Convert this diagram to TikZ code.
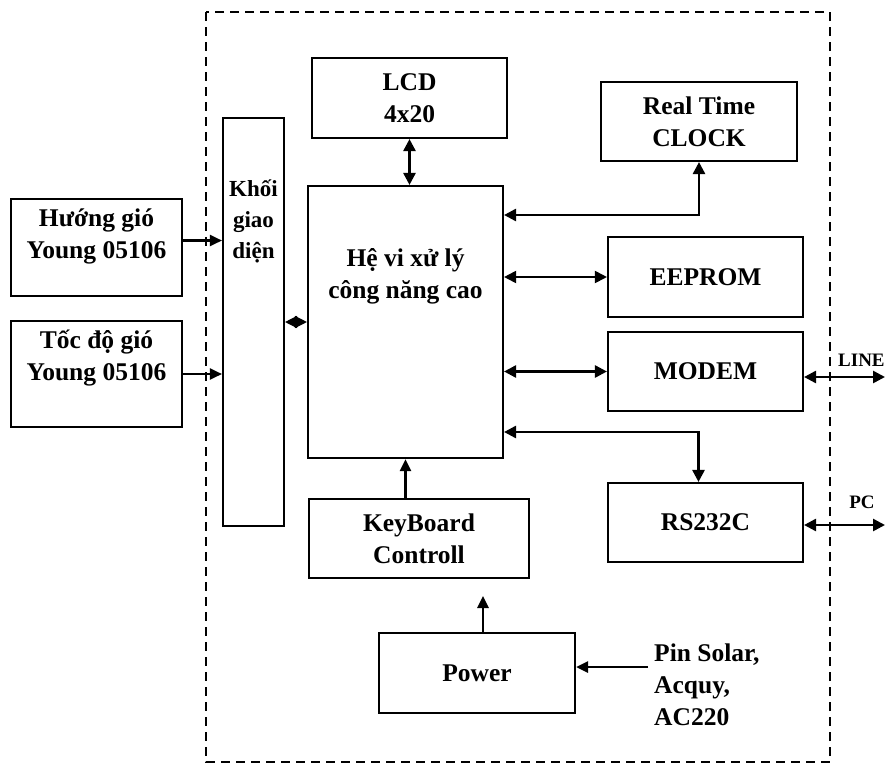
\documentclass[tikz,border=0pt]{standalone}
\usepackage{fontspec}
\setmainfont{Liberation Serif}
\usetikzlibrary{arrows.meta}

\begin{document}
\begin{tikzpicture}[
    x=1pt, y=-1pt,
    blk/.style={draw, line width=2.1pt, inner sep=0pt, align=center, font=\fontsize{25.5}{32}\selectfont\bfseries},
    txt/.style={inner sep=0pt, align=center, font=\fontsize{25.5}{32}\selectfont\bfseries},
    arr/.style={line width=2.2pt, -{Triangle[length=12pt,width=11pt]}},
    dbl/.style={line width=2.6pt, {Triangle[length=12pt,width=12pt]}-{Triangle[length=12pt,width=12pt]}},
    frame/.style={line width=1.8pt, dash pattern=on 9pt off 6pt}
]
    \useasboundingbox (0,0) rectangle (887,764);
    \draw[frame] (206,12) rectangle (830,762);

    % sensors
    \node[blk, minimum width=171pt, minimum height=97pt] (huong) at (96.5,247.5) {};
    \node[txt] at (96.5,236) {Hướng gió\\Young 05106};
    \node[blk, minimum width=171pt, minimum height=106pt] (toc) at (96.5,374) {};
    \node[txt] at (96.5,358) {Tốc độ gió\\Young 05106};

    % interface and processor
    \node[blk, minimum width=61pt, minimum height=408pt] (khoi) at (253.5,322) {};
    \node[txt, font=\fontsize{23}{31}\selectfont\bfseries] at (253.5,221) {Khối\\giao\\diện};
    \node[blk, minimum width=195pt, minimum height=272pt] (cpu) at (405.5,322) {};
    \node[txt] at (405.5,276) {Hệ vi xử lý\\công năng cao};

    \node[blk, minimum width=195pt, minimum height=80pt] (lcd) at (409.5,98) {LCD\\4x20};
    \node[blk, minimum width=196pt, minimum height=79pt] (clock) at (699,121.5) {Real Time\\CLOCK};
    \node[blk, minimum width=195pt, minimum height=80pt] (eeprom) at (705.5,277) {EEPROM};
    \node[blk, minimum width=195pt, minimum height=79pt] (modem) at (705.5,371.5) {MODEM};
    \node[blk, minimum width=195pt, minimum height=79pt] (rs) at (705.5,522.5) {RS232C};
    \node[blk, minimum width=220pt, minimum height=79pt] (kb) at (419,538.5) {KeyBoard\\Controll};
    \node[blk, minimum width=196pt, minimum height=80pt] (pwr) at (477,673) {Power};

    \node[txt, align=left, anchor=west] (src) at (654,685) {Pin Solar,\\Acquy,\\AC220};
    \node[txt, font=\fontsize{19}{22}\selectfont\bfseries, anchor=west] (line) at (838,360) {LINE};
    \node[txt, font=\fontsize{19}{22}\selectfont\bfseries] (pc) at (862,502) {PC};

    \coordinate (lineend) at (885,377);
    \coordinate (pcend) at (885,525);
    \coordinate (pwrtip) at (483,596);
    \coordinate (srcin) at (648,667);

    % connections
    \draw[arr] ([yshift=7pt]huong.east) -- ([yshift=7pt]huong.east -| khoi.west);
    \draw[arr] (toc.east) -- (toc.east -| khoi.west);
    \draw[dbl, line width=1.5pt] (khoi.east) -- (khoi.east -| cpu.west);
    \draw[dbl] (lcd.south) -- (lcd.south |- cpu.north);
    \draw[dbl] (clock.south) |- ([yshift=107pt]cpu.east);
    \draw[dbl, line width=1.9pt] (cpu.east |- eeprom.west) -- (eeprom.west);
    \draw[dbl] (cpu.east |- modem.west) -- (modem.west);
    \draw[dbl] ([xshift=-7pt]rs.north) |- ([yshift=-110pt]cpu.east);
    \draw[dbl] (modem.east |- lineend) -- (lineend);
    \draw[dbl] (rs.east |- pcend) -- (pcend);
    \draw[arr, line width=2.6pt] (kb.north -| cpu.south) -- (cpu.south);
    \draw[arr, line width=2.6pt] (pwr.north -| pwrtip) -- (pwrtip);
    \draw[arr, line width=2.6pt] (srcin) -- (srcin -| pwr.east);
\end{tikzpicture}
\end{document}
